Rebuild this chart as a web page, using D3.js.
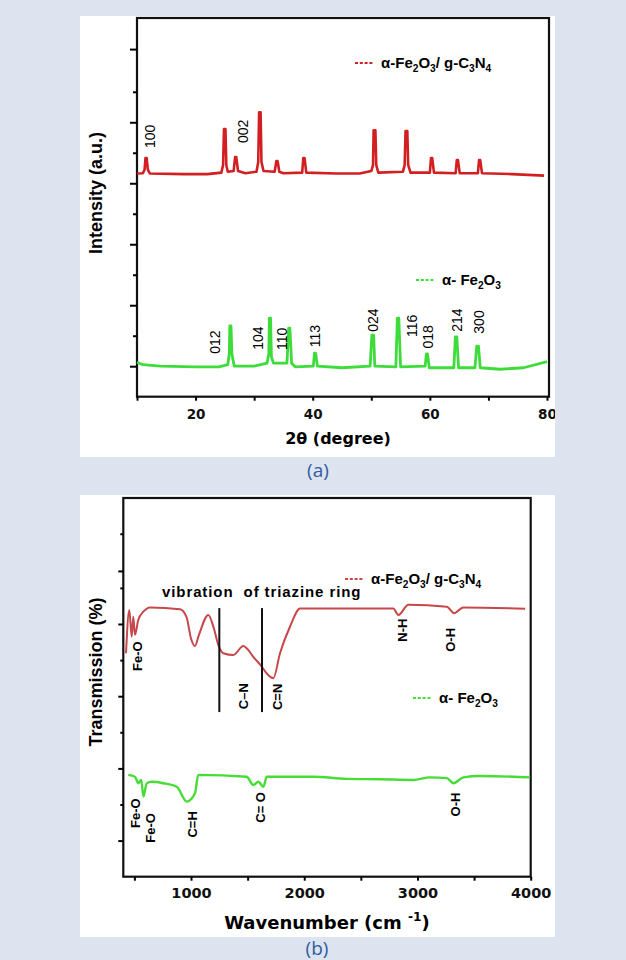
<!DOCTYPE html>
<html>
<head>
<meta charset="utf-8">
<script src="https://cdn.jsdelivr.net/npm/d3@7"></script>
<style>
  body { margin: 0; background: #dee3f0; }
  svg { display: block; }
</style>
</head>
<body>
<div id="my_dataviz"></div>
<script>
// ---------- (a) XRD data : [2theta, intensity a.u.]
var xrdTicks = [20, 40, 60, 80];
var xrdMinorTicks = [10, 30, 50, 70];
var xrdYMajor = [1, 3, 5, 7, 9, 11.4];
var xrdYMinor = [2, 4, 6, 8, 10];

var xrdRed = [[10,7.32],[11.0,7.33],[11.3,7.45],[11.45,7.83],[11.65,7.83],[11.85,7.45],[12.2,7.32],
  [18,7.30],[22,7.30],[24.4,7.35],[24.7,7.6],[24.85,8.78],[25.1,8.78],[25.25,7.6],[25.5,7.38],
  [26.5,7.4],[26.75,7.86],[26.95,7.86],[27.25,7.4],[28.5,7.33],[30.4,7.38],[30.7,7.7],[30.85,9.33],
  [31.1,9.33],[31.25,7.7],[31.6,7.4],[33.5,7.38],[33.8,7.73],[34.0,7.73],[34.3,7.38],[35,7.33],
  [38.2,7.35],[38.4,7.83],[38.6,7.83],[38.9,7.35],[44,7.32],[48,7.32],[50.0,7.4],[50.3,7.6],
  [50.4,8.74],[50.7,8.74],[50.85,7.6],[51.2,7.35],[55.4,7.38],[55.7,7.6],[55.85,8.71],[56.15,8.71],
  [56.3,7.6],[56.7,7.35],[60.0,7.35],[60.2,7.83],[60.4,7.83],[60.7,7.35],[64.4,7.33],[64.6,7.76],
  [64.8,7.76],[65.1,7.33],[68.2,7.33],[68.4,7.76],[68.6,7.76],[68.9,7.33],[74,7.3],[79.5,7.25]];

var xrdGreen = [[10,1.13],[11,1.05],[14,1.0],[20,0.98],[24,0.98],[25.5,1.05],[25.75,1.4],[25.85,2.32],
  [26.05,2.32],[26.2,1.4],[26.6,1.0],[30,1.0],[32.2,1.1],[32.5,1.4],[32.6,2.58],[32.8,2.58],[32.95,1.3],
  [33.3,1.1],[35.6,1.1],[35.9,2.25],[36.1,2.25],[36.4,1.1],[37,0.98],[40.1,1.0],[40.3,1.43],[40.5,1.43],
  [40.8,1.0],[45,0.95],[49.8,1.0],[50.1,2.02],[50.4,2.02],[50.6,1.0],[54.2,0.98],[54.45,2.58],[54.7,2.58],
  [55.0,0.98],[59.2,1.0],[59.4,1.40],[59.6,1.40],[59.9,0.95],[64.1,0.95],[64.35,1.96],[64.6,1.96],
  [64.9,0.95],[67.7,0.95],[68.0,1.66],[68.3,1.66],[68.6,0.95],[72,0.9],[76,0.95],[80,1.15]];

var xrdRedHkl = ["100", "002"];
var xrdRedHklAt = [[12.2, 8.54], [28.1, 8.7]];
var xrdGreenHkl = ["012", "104", "110", "113", "024", "116", "018", "214", "300"];
var xrdGreenHklAt = [[23.3,1.79],[30.7,1.92],[34.8,1.9],[40.4,1.99],[50.3,2.51],[57.0,2.32],[59.7,1.96],[64.7,2.51],[68.3,2.45]];

// ---------- (b) FTIR data : [wavenumber, transmission a.u.]
var ftirTicks = [1000, 2000, 3000, 4000];
var ftirMinorTicks = [500, 1500, 2500, 3500];
var ftirYMajor = [1, 3, 5, 7, 8.47];
var ftirYMinor = [2, 4, 6, 8, 9.5];

var ftirRed = [[426,6.19],[455,7.39],[476,6.65],[490,7.2],[505,6.70],[534,7.11],[579,7.34],[638,7.46],
  [903,7.41],[960,7.2],[1000,6.6],[1035,6.39],[1070,6.7],[1153,7.25],[1200,6.9],[1241,6.42],[1285,6.19],
  [1374,6.14],[1462,6.39],[1500,6.3],[1550,6.09],[1625,5.82],[1669,5.63],[1727,5.50],[1786,6.19],
  [1875,6.93],[1963,7.43],[2787,7.43],[2831,7.25],[2920,7.53],[3259,7.48],[3323,7.30],[3405,7.46],[3951,7.42]];

var ftirGreen = [[446,2.82],[505,2.77],[534,2.59],[560,2.68],[580,2.22],[609,2.59],[653,2.63],[755,2.59],
  [874,2.49],[962,2.08],[1035,2.31],[1064,2.82],[1492,2.77],[1550,2.54],[1595,2.63],[1639,2.49],
  [1669,2.77],[2080,2.77],[2375,2.71],[2670,2.70],[2964,2.68],[3111,2.75],[3259,2.73],[3317,2.59],
  [3405,2.75],[3553,2.79],[3995,2.75]];

var ftirRedBands = ["Fe-O", "N-H", "O-H", "C\u2013N", "C=N"];
var ftirRedBandsAt = [[523,6.11],[2864,6.83],[3288,6.56],[1459,5.0],[1760,4.98]];
var ftirGreenBands = ["Fe-O", "Fe-O", "C=H", "C= O", "O-H"];
var ftirGreenBandsAt = [[505,1.76],[638,1.35],[1009,1.45],[1610,1.92],[3332,2.0]];
var triazineLines = [1250, 1627];

var redA = "#d21f22", greenA = "#3ddc3a", redB = "#c8474a", greenB = "#47dc36";

// ---------- svg
var svg = d3.select("#my_dataviz")
  .append("svg")
    .attr("width", 626)
    .attr("height", 960);

// writes a text with sub/superscripts: parts = [[text, "sub"|"sup"|null], ...]
function richText(sel, parts, size) {
  var shift = 0;
  parts.forEach(function(p) {
    var target = p[1] == "sub" ? size * 0.28 : (p[1] == "sup" ? -size * 0.42 : 0);
    var t = sel.append("tspan").text(p[0]).attr("dy", target - shift);
    if (p[1]) t.attr("font-size", size * 0.68);
    shift = target;
  });
}
var compParts = [["\u03b1-Fe",null],["2","sub"],["O",null],["3","sub"],["/ g-C",null],["3","sub"],["N",null],["4","sub"]];
var hemParts = [["\u03b1- Fe",null],["2","sub"],["O",null],["3","sub"]];

function legend(g, x, y, color, parts) {
  g.append("line")
    .attr("x1", x).attr("x2", x + 19).attr("y1", y).attr("y2", y)
    .attr("stroke", color).attr("stroke-width", 2).attr("stroke-dasharray", "3,1.8");
  var t = g.append("text")
    .attr("x", x + 26).attr("y", y + 5)
    .attr("font-family", "Liberation Sans, Arial, sans-serif")
    .attr("font-weight", "bold").attr("font-size", 15);
  richText(t, parts, 15);
}

function vLabel(g, x, y, txt, size, weight) {
  g.append("text")
    .attr("transform", "translate(" + x + "," + y + ") rotate(-90)")
    .attr("text-anchor", "middle").attr("dy", "0.36em")
    .attr("font-family", "Liberation Sans, Arial, sans-serif")
    .attr("font-size", size).attr("font-weight", weight)
    .text(txt);
}

// ================= panel (a)
svg.append("rect").attr("x", 80).attr("y", 16).attr("width", 475).attr("height", 441).attr("fill", "white");
svg.append("clipPath").attr("id", "clipA")
  .append("rect").attr("x", 80).attr("y", 16).attr("width", 475).attr("height", 441);
var ga = svg.append("g").attr("clip-path", "url(#clipA)");

var xA = d3.scaleLinear().domain([10, 80]).range([137, 547]);
var yA = d3.scaleLinear().domain([0, 12.42]).range([396.7, 18]);

ga.append("rect")
  .attr("x", xA(10)).attr("y", yA(12.42))
  .attr("width", xA(80) - xA(10) + 2).attr("height", yA(0) - yA(12.42))
  .attr("fill", "none").attr("stroke", "#111").attr("stroke-width", 2.2);

ga.append("g")
  .attr("transform", "translate(0," + yA(0) + ")")
  .call(d3.axisBottom(xA).tickValues(xrdMinorTicks.concat(xrdTicks)).tickSize(4).tickFormat(""))
  .call(function(g) { g.select(".domain").remove(); g.selectAll("text").remove(); g.selectAll("line").attr("stroke-width", 2); });
ga.append("g")
  .attr("transform", "translate(0," + yA(0) + ")")
  .call(d3.axisBottom(xA).tickValues(xrdTicks).tickSize(0).tickPadding(13).tickFormat(d3.format("d")))
  .call(function(g) {
    g.select(".domain").remove();
    g.selectAll("text").attr("font-family", "DejaVu Sans, sans-serif").attr("font-weight", "bold")
      .attr("font-size", 13.5).attr("fill", "#111");
  });
ga.append("g")
  .attr("transform", "translate(" + xA(10) + ",0)")
  .call(d3.axisLeft(yA).tickValues(xrdYMajor).tickSize(7).tickFormat(""))
  .call(function(g) { g.select(".domain").remove(); g.selectAll("text").remove(); g.selectAll("line").attr("stroke-width", 2); });
ga.append("g")
  .attr("transform", "translate(" + xA(10) + ",0)")
  .call(d3.axisLeft(yA).tickValues(xrdYMinor).tickSize(4).tickFormat(""))
  .call(function(g) { g.select(".domain").remove(); g.selectAll("text").remove(); g.selectAll("line").attr("stroke-width", 2); });

var lineA = d3.line().x(function(d) { return xA(d[0]); }).y(function(d) { return yA(d[1]); });
ga.append("path").datum(xrdRed).attr("d", lineA)
  .attr("fill", "none").attr("stroke", redA).attr("stroke-width", 2.6).attr("stroke-linejoin", "round");
ga.append("path").datum(xrdGreen).attr("d", lineA)
  .attr("fill", "none").attr("stroke", greenA).attr("stroke-width", 2.8).attr("stroke-linejoin", "round");

xrdRedHkl.forEach(function(t, i) { vLabel(ga, xA(xrdRedHklAt[i][0]), yA(xrdRedHklAt[i][1]), t, 14, "normal"); });
xrdGreenHkl.forEach(function(t, i) { vLabel(ga, xA(xrdGreenHklAt[i][0]), yA(xrdGreenHklAt[i][1]), t, 14, "normal"); });

legend(ga, 355, 63, redA, compParts);
legend(ga, 416, 280, greenA, hemParts);

ga.append("text")
  .attr("x", 338).attr("y", 444).attr("text-anchor", "middle")
  .attr("font-family", "DejaVu Sans, sans-serif").attr("font-weight", "bold").attr("font-size", 16)
  .text("2\u03b8 (degree)");
ga.append("text")
  .attr("transform", "translate(102,193) rotate(-90)").attr("text-anchor", "middle")
  .attr("font-family", "Liberation Sans, Arial, sans-serif").attr("font-weight", "bold").attr("font-size", 18)
  .text("Intensity (a.u.)");

svg.append("text")
  .attr("x", 318).attr("y", 477).attr("text-anchor", "middle")
  .attr("font-family", "Open Sans, sans-serif").attr("font-size", 19).attr("fill", "#2e5c9e")
  .text("(a)");

// ================= panel (b)
svg.append("rect").attr("x", 80).attr("y", 495).attr("width", 475).attr("height", 442).attr("fill", "white");
var gb = svg.append("g");

var xB = d3.scaleLinear().domain([402, 4000]).range([123.3, 530.7]);
var yB = d3.scaleLinear().domain([0, 10.49]).range([876.7, 498]);

gb.append("rect")
  .attr("x", xB(402)).attr("y", yB(10.49))
  .attr("width", xB(4000) - xB(402)).attr("height", yB(0) - yB(10.49))
  .attr("fill", "none").attr("stroke", "#111").attr("stroke-width", 2.2);

gb.append("g")
  .attr("transform", "translate(0," + yB(0) + ")")
  .call(d3.axisBottom(xB).tickValues(ftirMinorTicks.concat(ftirTicks)).tickSize(4).tickFormat(""))
  .call(function(g) { g.select(".domain").remove(); g.selectAll("text").remove(); g.selectAll("line").attr("stroke-width", 2); });
gb.append("g")
  .attr("transform", "translate(0," + yB(0) + ")")
  .call(d3.axisBottom(xB).tickValues(ftirTicks).tickSize(0).tickPadding(11).tickFormat(d3.format("d")))
  .call(function(g) {
    g.select(".domain").remove();
    g.selectAll("text").attr("font-family", "DejaVu Sans, sans-serif").attr("font-weight", "bold")
      .attr("font-size", 14.5).attr("fill", "#111");
  });
gb.append("g")
  .attr("transform", "translate(" + xB(402) + ",0)")
  .call(d3.axisLeft(yB).tickValues(ftirYMajor).tickSize(5).tickFormat(""))
  .call(function(g) { g.select(".domain").remove(); g.selectAll("text").remove(); g.selectAll("line").attr("stroke-width", 2); });
gb.append("g")
  .attr("transform", "translate(" + xB(402) + ",0)")
  .call(d3.axisLeft(yB).tickValues(ftirYMinor).tickSize(3).tickFormat(""))
  .call(function(g) { g.select(".domain").remove(); g.selectAll("text").remove(); g.selectAll("line").attr("stroke-width", 2); });

var lineB = d3.line().curve(d3.curveMonotoneX)
  .x(function(d) { return xB(d[0]); }).y(function(d) { return yB(d[1]); });
gb.append("path").datum(ftirRed).attr("d", lineB)
  .attr("fill", "none").attr("stroke", redB).attr("stroke-width", 2).attr("stroke-linejoin", "round");
gb.append("path").datum(ftirGreen).attr("d", lineB)
  .attr("fill", "none").attr("stroke", greenB).attr("stroke-width", 2.4).attr("stroke-linejoin", "round");

gb.selectAll(".triazine").data(triazineLines).enter().append("line")
  .attr("x1", function(d) { return xB(d); }).attr("x2", function(d) { return xB(d); })
  .attr("y1", yB(7.44)).attr("y2", yB(4.56))
  .attr("stroke", "#111").attr("stroke-width", 2);

gb.append("text")
  .attr("x", xB(744)).attr("y", yB(7.75))
  .attr("font-family", "Liberation Sans, Arial, sans-serif").attr("font-weight", "bold").attr("font-size", 15)
  .attr("letter-spacing", 0.9)
  .style("white-space", "pre")
  .text("vibration  of triazine ring");

ftirRedBands.forEach(function(t, i) { vLabel(gb, xB(ftirRedBandsAt[i][0]), yB(ftirRedBandsAt[i][1]), t, 13, "bold"); });
ftirGreenBands.forEach(function(t, i) { vLabel(gb, xB(ftirGreenBandsAt[i][0]), yB(ftirGreenBandsAt[i][1]), t, 13, "bold"); });

legend(gb, 345, 579, redB, compParts);
legend(gb, 413, 698, greenB, hemParts);

var xt = gb.append("text")
  .attr("x", 327).attr("y", 929).attr("text-anchor", "middle")
  .attr("font-family", "DejaVu Sans, sans-serif").attr("font-weight", "bold").attr("font-size", 18);
richText(xt, [["Wavenumber (cm ", null], ["-1", "sup"], [")", null]], 18);

gb.append("text")
  .attr("transform", "translate(102,672) rotate(-90)").attr("text-anchor", "middle")
  .attr("font-family", "Liberation Sans, Arial, sans-serif").attr("font-weight", "bold").attr("font-size", 18)
  .text("Transmission (%)");

svg.append("text")
  .attr("x", 317).attr("y", 955).attr("text-anchor", "middle")
  .attr("font-family", "Open Sans, sans-serif").attr("font-size", 19).attr("fill", "#2e5c9e")
  .text("(b)");
</script>
</body>
</html>
